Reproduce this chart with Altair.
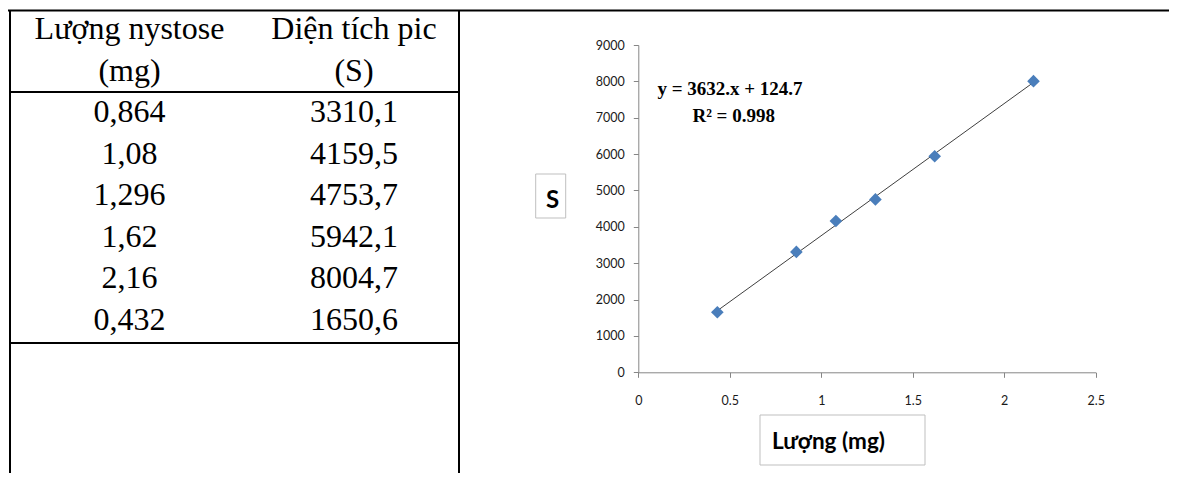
import altair as alt
import pandas as pd

# ---- data ----
amount = [0.864, 1.08, 1.296, 1.62, 2.16, 0.432]          # Lượng nystose (mg)
area = [3310.1, 4159.5, 4753.7, 5942.1, 8004.7, 1650.6]     # Diện tích pic (S)
header_amount = ["Lượng nystose", "(mg)"]
header_area = ["Diện tích pic", "(S)"]
x_ticks = [0, 0.5, 1, 1.5, 2, 2.5]
y_ticks = [0, 1000, 2000, 3000, 4000, 5000, 6000, 7000, 8000, 9000]
equation_lines = ["y = 3632.x + 124.7", "R² = 0.998"]
y_title = "S"
x_title = "Lượng (mg)"

# ---- layout (chart pixel coordinates) ----
W, H = 1161, 465
X0, X1 = 630.3, 1087.7     # x range of scatter plot
Y0, Y1 = 364.3, 37.0       # y range of scatter plot (0 -> 9000)


def vn(v):
    return f"{v:g}".replace(".", ",")


pts = pd.DataFrame({"amount": amount, "area": area})

xs = alt.Scale(domain=[0, 2.5], range=[X0, X1], nice=False, zero=False)
ys = alt.Scale(domain=[0, 9000], range=[Y0, Y1], nice=False, zero=False)

axis_common = dict(
    grid=False, domainColor="#868686", tickColor="#868686", tickSize=5,
    domainWidth=1, tickWidth=1, labelFont="Lato", labelFontSize=12.5,
    labelColor="#1a1a1a", title=None, labelFlush=False, labelOverlap=False,
)
x_axis = alt.Axis(orient="bottom", offset=Y0 - H, values=x_ticks, format="~g",
                  labelPadding=17, **axis_common)
y_axis = alt.Axis(orient="left", offset=-X0, values=y_ticks, format="d",
                  labelPadding=9, **axis_common)

trend = alt.Chart(pts).transform_regression("amount", "area").mark_line(
    color="#3F3F3F", strokeWidth=1
).encode(
    x=alt.X("amount:Q", scale=xs, axis=x_axis),
    y=alt.Y("area:Q", scale=ys, axis=y_axis),
)
points = alt.Chart(pts).mark_point(
    shape="diamond", filled=True, size=160, color="#4A7EBB", opacity=1
).encode(
    x=alt.X("amount:Q", scale=xs, axis=x_axis),
    y=alt.Y("area:Q", scale=ys, axis=y_axis),
)
scatter = alt.layer(trend, points)

# ---- table ----
rows = []
for c, hdr in enumerate([header_amount, header_area]):
    for i, h in enumerate(hdr):
        rows.append({"col": c, "row": i - 2, "label": h})
for i, (a, s) in enumerate(zip(amount, area)):
    rows.append({"col": 0, "row": i, "label": vn(a)})
    rows.append({"col": 1, "row": i, "label": vn(s)})
tdf = pd.DataFrame(rows)

table_text = alt.Chart(tdf).mark_text(
    font="Liberation Serif", fontSize=32, baseline="alphabetic",
    align="center", color="black"
).encode(
    x=alt.X("col:Q", scale=alt.Scale(domain=[0, 1], range=[121.5, 346]), axis=None),
    y=alt.Y("row:Q", scale=alt.Scale(domain=[-2, 5], range=[31, 321.5],
                                     nice=False, zero=False), axis=None),
    text="label:N",
)

one = pd.DataFrame({"k": [0]})


def rule(x, x2, y, y2, w=2, color="black"):
    return alt.Chart(one).mark_rule(color=color, strokeWidth=w).encode(
        x=alt.value(x), x2=alt.value(x2), y=alt.value(y), y2=alt.value(y2)
    )


borders = [
    rule(0, W, 2.5, 2.5),          # top line across
    rule(2, 2, 2.5, H),            # left border
    rule(451, 451, 2.5, H),        # table right border
    rule(2, 451, 84, 84),          # header separator
    rule(2, 451, 335, 335),        # body bottom
]


def box(x, x2, y, y2):
    return alt.Chart(one).mark_rect(fill="white", stroke="#BFBFBF", strokeWidth=1).encode(
        x=alt.value(x), x2=alt.value(x2), y=alt.value(y), y2=alt.value(y2)
    )


def label(text, x, y, size, font, weight="normal", align="center", color="black"):
    return alt.Chart(one).mark_text(
        font=font, fontSize=size, fontWeight=weight, align=align,
        baseline="alphabetic", color=color
    ).encode(x=alt.value(x), y=alt.value(y), text=alt.value(text))


annotations = [
    box(527.7, 557.7, 166, 210),
    label(y_title, 544.5, 200, 24, "Lato", "bold"),
    box(752, 917, 407, 457),
    label(x_title, 764, 441, 22.5, "Lato", "bold", align="left"),
    label(equation_lines[0], 722, 87, 19, "Liberation Serif", "bold"),
    label(equation_lines[1], 725.7, 114, 19, "Liberation Serif", "bold"),
]

chart = alt.layer(
    scatter, table_text, *borders, *annotations
).resolve_scale(
    x="independent", y="independent"
).properties(
    width=W, height=H, padding=0,
    autosize=alt.AutoSizeParams(type="none"),
    background="white",
).configure_view(strokeWidth=0)

chart.save("out.html", embed_options={"renderer": "svg", "actions": False})
